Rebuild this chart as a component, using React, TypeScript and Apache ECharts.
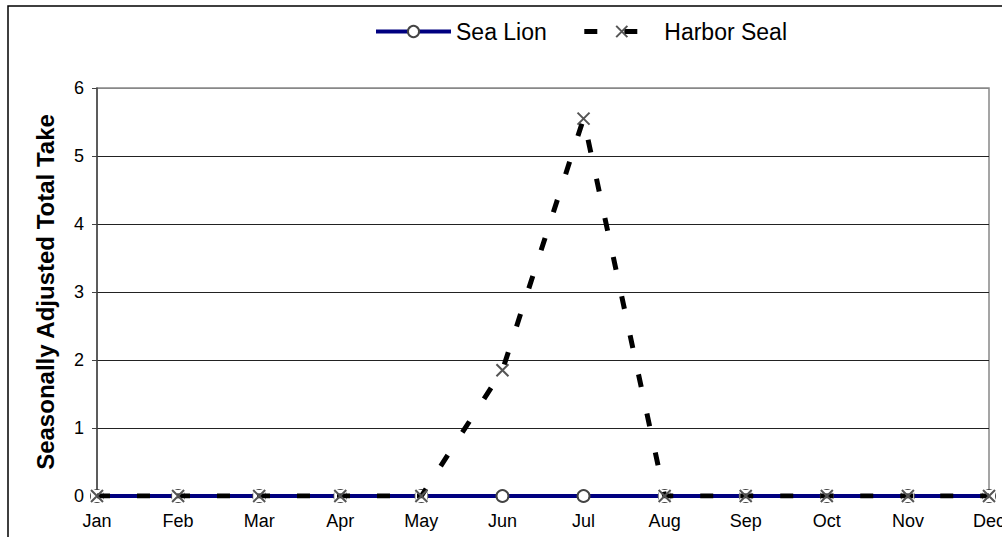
import React, { useEffect, useRef } from "react";
import * as echarts from "echarts";

const months = ["Jan", "Feb", "Mar", "Apr", "May", "Jun", "Jul", "Aug", "Sep", "Oct", "Nov", "Dec"];
const seaLion = [0, 0, 0, 0, 0, 0, 0, 0, 0, 0, 0, 0];
const harborSeal = [0, 0, 0, 0, 0, 1.85, 5.55, 0, 0, 0, 0, 0];
const yTicks = { min: 0, max: 6, interval: 1 };

export default function App() {
  const ref = useRef<HTMLDivElement>(null);
  useEffect(() => {
    if (!ref.current) return;
    const chart = echarts.init(ref.current, null, { renderer: "svg" });
    const font = "'Liberation Sans', Arial, sans-serif";
    chart.setOption({
      animation: false,
      backgroundColor: "#fff",
      textStyle: { fontFamily: font },
      graphic: [
        {
          type: "rect",
          shape: { x: 8, y: 6, width: 1200, height: 700 },
          style: { fill: "none", stroke: "#000", lineWidth: 1.5 },
          z: -1,
        },
      ],
      legend: {
        left: 369,
        top: 15,
        itemWidth: 75,
        itemHeight: 14,
        itemGap: 35,
        lineStyle: { width: "inherit" },
        textStyle: { fontSize: 23, color: "#000", fontFamily: font },
        data: ["Sea Lion", "Harbor Seal"],
      },
      grid: {
        left: 97,
        right: 13,
        top: 88,
        bottom: 41,
        show: true,
        borderColor: "#888",
        borderWidth: 1.5,
        containLabel: false,
        outerBoundsMode: "none",
      },
      xAxis: {
        type: "category",
        data: months,
        boundaryGap: false,
        axisLine: { show: true, lineStyle: { color: "#444", width: 1 } },
        axisTick: { show: false },
        axisLabel: { color: "#000", fontSize: 18, margin: 16, fontFamily: font, hideOverlap: false },
        splitLine: { show: false },
      },
      yAxis: {
        type: "value",
        min: yTicks.min,
        max: yTicks.max,
        interval: yTicks.interval,
        name: "Seasonally Adjusted Total Take",
        nameLocation: "middle",
        nameGap: 40,
        nameTextStyle: { fontSize: 24, fontWeight: "bold", color: "#000", fontFamily: font },
        axisLine: { show: true, lineStyle: { color: "#444", width: 1.5 } },
        axisTick: { show: true, length: 5, lineStyle: { color: "#444" } },
        axisLabel: { color: "#000", fontSize: 18, margin: 13, fontFamily: font },
        splitLine: {
          show: true,
          lineStyle: { color: ["#222", "#222", "#222", "#222", "#222", "#222", "#888"], width: 1 },
        },
      },
      series: [
        {
          name: "Sea Lion",
          type: "line",
          data: seaLion,
          symbol: "circle",
          symbolSize: 12,
          lineStyle: { color: "#000080", width: 4 },
          itemStyle: { color: "#fff", borderColor: "#444", borderWidth: 2 },
          z: 2,
        },
        {
          name: "harborSealMarkerBg",
          type: "line",
          data: harborSeal,
          symbol: "rect",
          symbolSize: 12,
          showAllSymbol: true,
          lineStyle: { width: 0, opacity: 0 },
          itemStyle: { color: "#fff", borderWidth: 0 },
          tooltip: { show: false },
          z: 3,
        },
        {
          name: "Harbor Seal",
          type: "line",
          data: harborSeal,
          symbol: "path://M0,0L10,10M10,0L0,10",
          symbolSize: 12,
          lineStyle: { color: "#000", width: 5, type: [13, 27] },
          itemStyle: { color: "none", borderColor: "#555", borderWidth: 2 },
          z: 4,
        },
      ],
    });
    return () => chart.dispose();
  }, []);
  return (
    <div
      ref={ref}
      style={{ position: "fixed", left: 0, top: 0, width: 1002, height: 537 }}
    />
  );
}
